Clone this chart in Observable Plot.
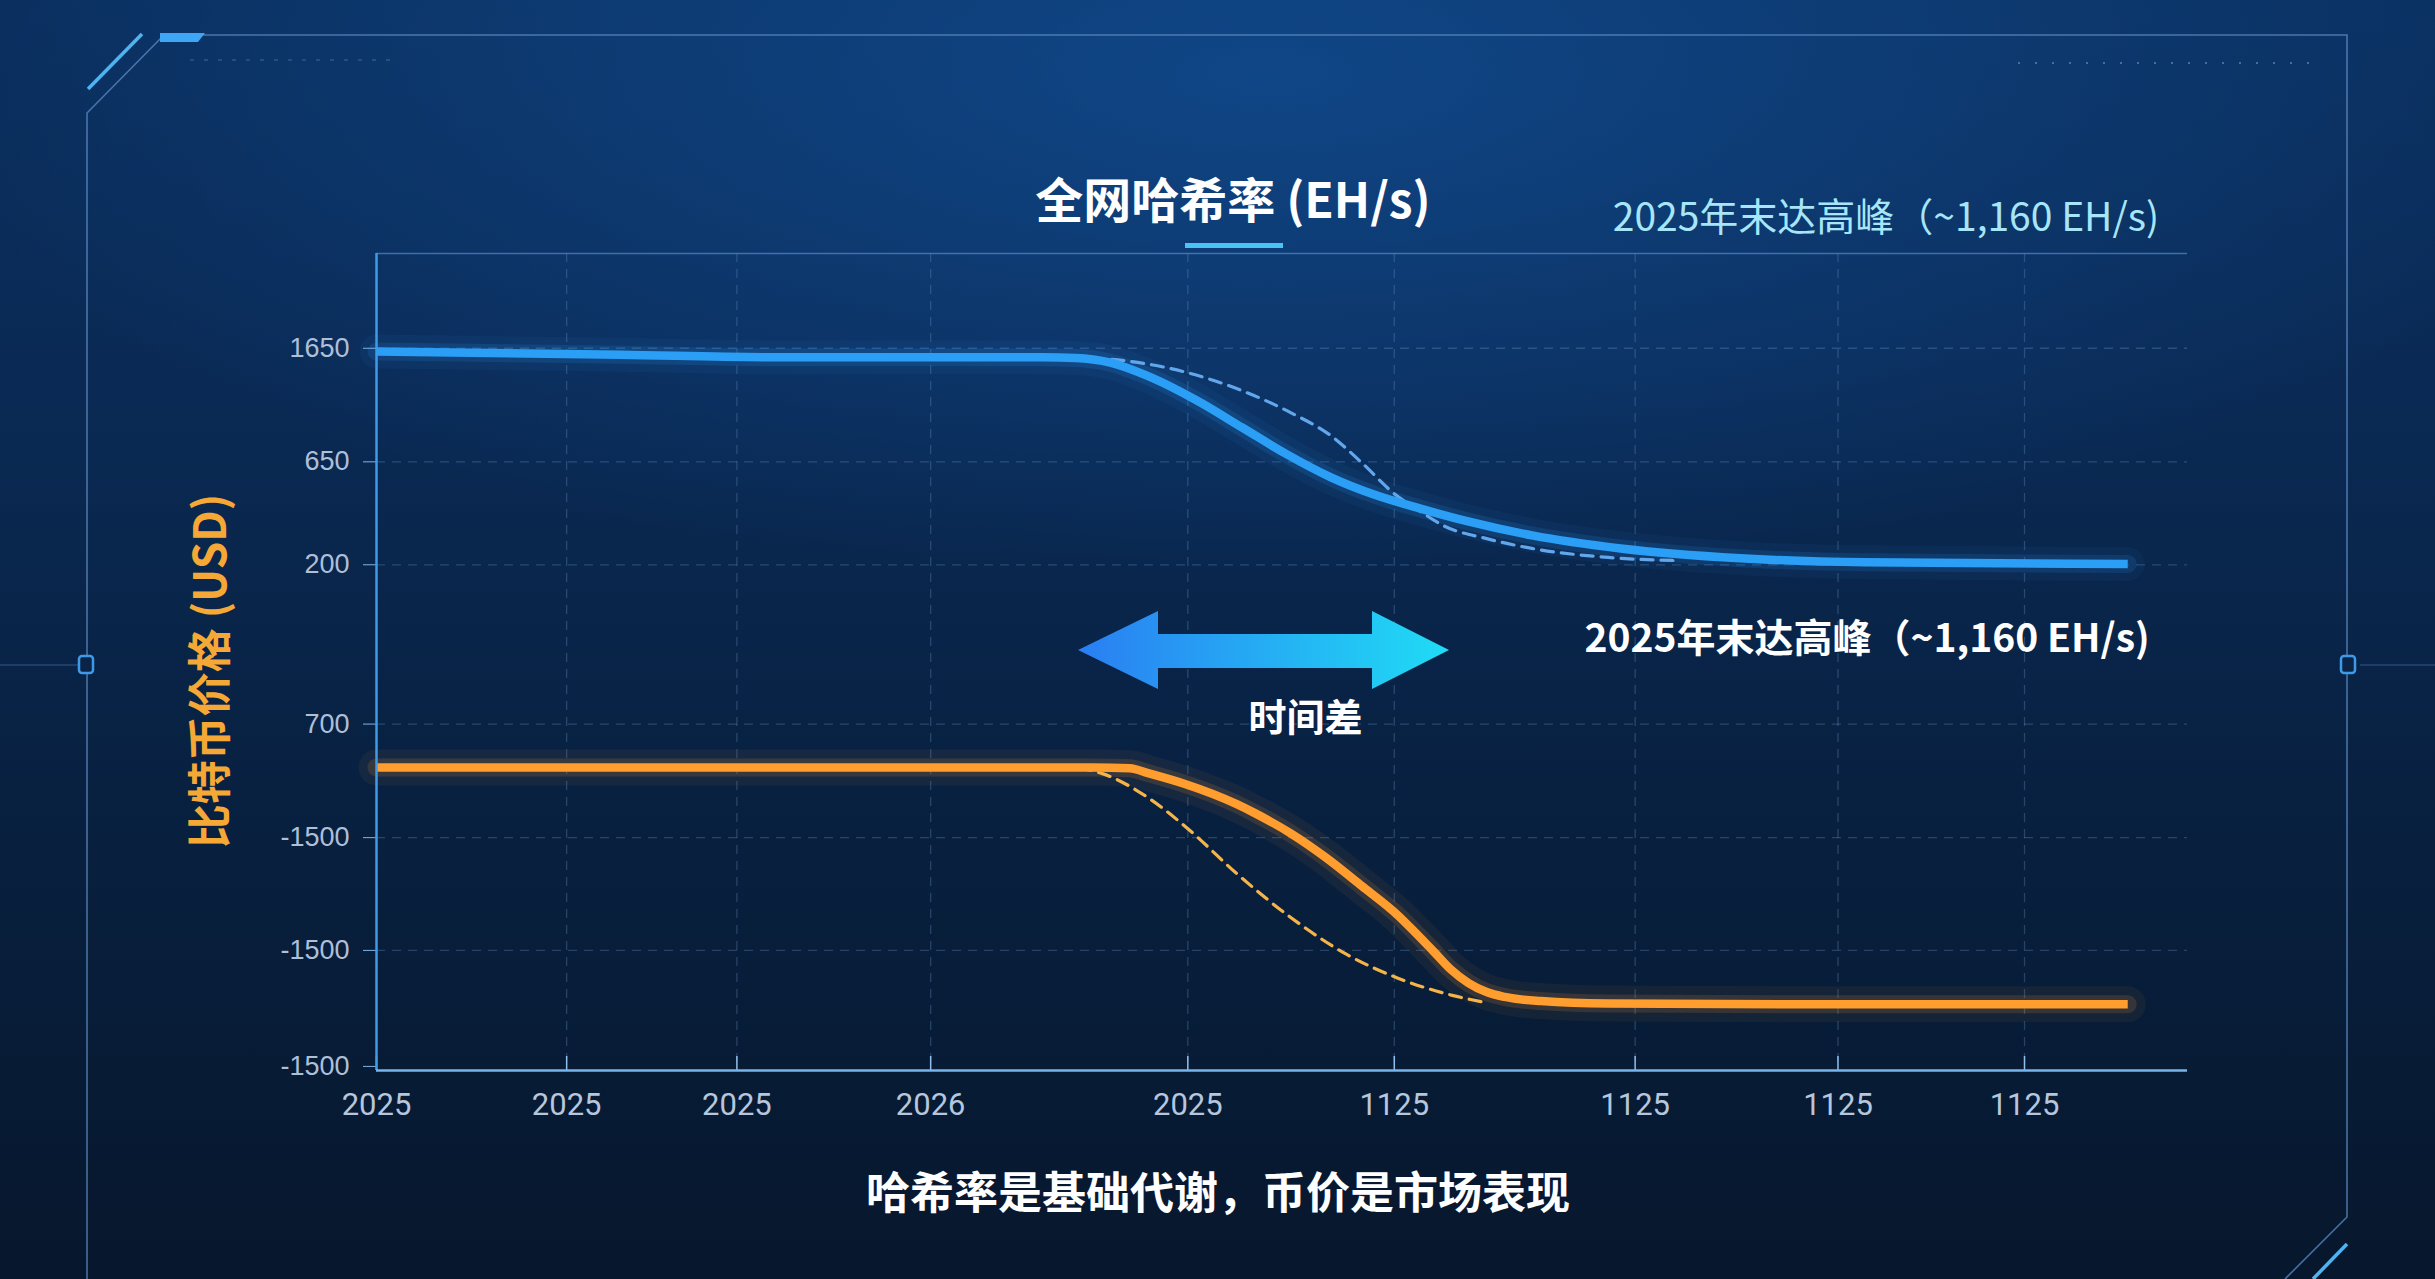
<!DOCTYPE html>
<html><head><meta charset="utf-8">
<script src="https://cdn.jsdelivr.net/npm/d3@7"></script>
<script src="https://cdn.jsdelivr.net/npm/@observablehq/plot@0.6"></script>
<style>
html,body{margin:0;padding:0;width:2435px;height:1279px;overflow:hidden;}
body{position:relative;font-family:"Noto Sans CJK SC","Noto Sans",sans-serif;
background:
 radial-gradient(ellipse 55% 40% at 52% 6%, rgba(20,90,170,0.55) 0%, rgba(20,90,170,0) 100%),
 linear-gradient(180deg,#0a2f5e 0%,#0a2a55 30%,#08203f 65%,#07172d 100%);}
#deco,#chart{position:absolute;left:0;top:0;}
.txt{position:absolute;white-space:nowrap;transform:translate(-50%,-50%);line-height:1;}
</style></head><body>
<svg id="deco" width="2435" height="1279"></svg>
<div id="chart"></div>
<svg id="arrow" width="2435" height="1279" style="position:absolute;left:0;top:0;pointer-events:none"></svg>
<script>
// ---- data ----
const xTickPos = [0, 10.5, 19.9, 30.6, 44.8, 56.2, 69.5, 80.7, 91.0];
const xTickLabels = ["2025","2025","2025","2026","2025","1125","1125","1125","1125"];
const yTickPos = [0.5, 14.7, 28.5, 42.4, 61.9, 74.5, 88.4];
const yTickLabels = ["-1500","-1500","-1500","700","200","650","1650"];

// hash rate (solid)
const hashX = [0, 13.5, 22.1, 30.7, 36.7, 38.6, 40.4, 42.8, 45.3, 47.8, 50.2, 52.7, 55.2, 57.6, 60.1, 63.8, 68.7, 75.3, 82.2, 96.7];
const hashY = [88.0, 87.6, 87.3, 87.3, 87.3, 87.2, 86.7, 84.8, 82.0, 78.7, 75.5, 72.6, 70.4, 68.8, 67.3, 65.5, 63.9, 62.7, 62.2, 62.0];
// hash rate (dashed)
const hashDashX = [38.4, 41.6, 44.8, 47.8, 50.5, 52.7, 54.4, 56.2, 57.6, 58.9, 61.3, 63.8, 68.0, 72.0];
const hashDashY = [87.3, 86.8, 85.4, 83.2, 80.5, 77.7, 74.4, 70.6, 68.5, 66.7, 65.1, 63.9, 62.8, 62.4];
// price (solid)
const priceX = [0, 20, 36.7, 39.5, 41.6, 42.6, 44.6, 47.5, 48.5, 50.5, 52.4, 54.4, 56.4, 57.4, 58.4, 59.3, 60.3, 61.3, 62.3, 64.3, 68, 80, 96.7];
const priceY = [37.1, 37.1, 37.1, 37.1, 37.0, 36.4, 35.1, 32.6, 31.5, 29.0, 26.1, 22.6, 19.0, 16.8, 14.5, 12.4, 10.7, 9.6, 9.0, 8.5, 8.2, 8.1, 8.1];
// price (dashed)
const priceDashX = [38.8, 40.0, 42.6, 44.9, 47.5, 50.5, 53.5, 56.4, 59.4, 61.3];
const priceDashY = [37.0, 36.4, 33.4, 29.4, 24.1, 18.7, 14.3, 11.3, 9.2, 8.3];

const titleText = "全网哈希率 (EH/s)";
const peakText = "2025年末达高峰（~1,160 EH/s)";
const gapText = "时间差";
const yTitle = "比特币价格 (USD)";
const caption = "哈希率是基础代谢，币价是市场表现";

// ---- build ----
const pts = (xs, ys) => xs.map((x, i) => ({x, y: ys[i]}));
const hash = pts(hashX, hashY), hashD = pts(hashDashX, hashDashY);
const price = pts(priceX, priceY), priceD = pts(priceDashX, priceDashY);
const yLab = new Map(yTickPos.map((p, i) => [p, yTickLabels[i]]));
const xLab = new Map(xTickPos.map((p, i) => [p, xTickLabels[i]]));

const W = 2435, H = 1279, ML = 376, MR = 2435 - 2187, MT = 253, MB = 1279 - 1070;
const PH = H - MT - MB;
const BLUE = "#2b9ff5", ORANGE = "#ff9d2f";
const grid = {stroke: "#6a95c8", strokeOpacity: 0.32, strokeWidth: 1.3, strokeDasharray: "9,7"};
const C = "monotone-x";

const chart = Plot.plot({
  width: W, height: H,
  marginLeft: ML, marginRight: MR, marginTop: MT, marginBottom: MB,
  style: {background: "transparent", color: "#b3c3da", fontFamily: "Liberation Sans, Arial, sans-serif", overflow: "visible"},
  x: {domain: [0, 100]},
  y: {domain: [0, 100]},
  marks: [
    Plot.gridX(xTickPos.slice(1), grid),
    Plot.gridY(yTickPos.slice(1), grid),
    Plot.ruleY([100], {stroke: "#4f7fb8", strokeOpacity: 0.8, strokeWidth: 1.5}),
    // glows
    Plot.line(hash, {x: "x", y: "y", curve: C, stroke: BLUE, strokeWidth: 34, strokeOpacity: 0.06}),
    Plot.line(hash, {x: "x", y: "y", curve: C, stroke: BLUE, strokeWidth: 18, strokeOpacity: 0.14}),
    Plot.line(price, {x: "x", y: "y", curve: C, stroke: ORANGE, strokeWidth: 36, strokeOpacity: 0.06}),
    Plot.line(price, {x: "x", y: "y", curve: C, stroke: ORANGE, strokeWidth: 18, strokeOpacity: 0.14}),
    // dashed projections
    Plot.line(hashD, {x: "x", y: "y", curve: C, stroke: "#62a6ec", strokeWidth: 3.2, strokeDasharray: "12,8"}),
    Plot.line(priceD, {x: "x", y: "y", curve: C, stroke: "#f4b449", strokeWidth: 3.2, strokeDasharray: "12,8"}),
    // main lines
    Plot.line(hash, {x: "x", y: "y", curve: C, stroke: BLUE, strokeWidth: 8.5, strokeLinecap: "butt"}),
    Plot.line(price, {x: "x", y: "y", curve: C, stroke: ORANGE, strokeWidth: 8.5, strokeLinecap: "butt"}),
    // axes
    Plot.axisY(yTickPos, {tickFormat: d => yLab.get(d), tickSize: 13, tickPadding: 14, fontSize: 27, label: null, stroke: "#7fb3e6", fill: "#aebfd8"}),
    Plot.axisX(xTickPos, {tickFormat: d => xLab.get(d), tickSize: 0, tickPadding: 22, fontSize: 31, label: null, fill: "#b6c6dc", fontFamily: "Liberation Sans Narrow, Roboto, sans-serif"}),
    Plot.tickX(xTickPos, {x: d => d, insetTop: PH - 14, stroke: "#8fc0ee", strokeWidth: 1.5}),
    Plot.ruleX([0], {stroke: "#3d9be9", strokeWidth: 2.5}),
    Plot.ruleY([0], {stroke: "#78b4ea", strokeWidth: 2.5}),
    // annotations
    Plot.text([peakText], {text: d => d, x: 66.7, y: 52.7, textAnchor: "start", fill: "white", fontSize: 39, fontWeight: "bold", fontFamily: "Noto Sans CJK SC, sans-serif"}),
    Plot.text([gapText], {text: d => d, x: 51.3, y: 43, fill: "white", fontSize: 38, fontWeight: "bold", fontFamily: "Noto Sans CJK SC, sans-serif"})
  ]
});
document.getElementById("chart").appendChild(chart);

// ---- decorative frame ----
const deco = d3.select("#deco");
deco.append("polyline").attr("points", "87,1279 87,113 164,35 2347,35 2347,1217 2285,1279")
  .attr("fill", "none").attr("stroke", "#5f8cc4").attr("stroke-opacity", 0.75).attr("stroke-width", 1.6);
deco.append("polygon").attr("points", "160,33 205,33 198,42 160,42").attr("fill", "#3ea6f5");
deco.append("line").attr("x1", 88).attr("y1", 89).attr("x2", 142).attr("y2", 34).attr("stroke", "#4fb3f0").attr("stroke-width", 3.5);
deco.append("line").attr("x1", 2347).attr("y1", 1244).attr("x2", 2313).attr("y2", 1279).attr("stroke", "#4fb3f0").attr("stroke-width", 3.5);
deco.append("line").attr("x1", 190).attr("y1", 60).attr("x2", 400).attr("y2", 60).attr("stroke", "#5f8cc4").attr("stroke-opacity", 0.3).attr("stroke-width", 2).attr("stroke-dasharray", "4,10");
deco.append("line").attr("x1", 2018).attr("y1", 63).attr("x2", 2320).attr("y2", 63).attr("stroke", "#8fb3dd").attr("stroke-opacity", 0.45).attr("stroke-width", 2).attr("stroke-dasharray", "2,15");
for (const cx of [86, 2348]) {
  deco.append("rect").attr("x", cx - 7).attr("y", 656).attr("width", 14).attr("height", 17).attr("rx", 3)
    .attr("fill", "#0a2448").attr("stroke", "#3e9ae8").attr("stroke-width", 2.5);
}
deco.append("line").attr("x1", 0).attr("y1", 665).attr("x2", 78).attr("y2", 665).attr("stroke", "#5f8cc4").attr("stroke-opacity", 0.5);
deco.append("line").attr("x1", 2360).attr("y1", 665).attr("x2", 2435).attr("y2", 665).attr("stroke", "#5f8cc4").attr("stroke-opacity", 0.5);
deco.append("rect").attr("x", 1185).attr("y", 243).attr("width", 98).attr("height", 5).attr("fill", "#4cc3f5");

// ---- double arrow ----
const ar = d3.select("#arrow");
const g = ar.append("defs").append("linearGradient").attr("id", "ag").attr("x1", "0").attr("x2", "1").attr("y1", "0").attr("y2", "0");
g.append("stop").attr("offset", "0").attr("stop-color", "#2a7ef2");
g.append("stop").attr("offset", "1").attr("stop-color", "#20dcf5");
ar.append("polygon")
  .attr("points", "1078,650 1158,611 1158,634 1372,634 1372,611 1449,650 1372,689 1372,668 1158,668 1158,689")
  .attr("fill", "url(#ag)");

// ---- texts ----
function addText(t, x, y, css) {
  const d = document.createElement("div");
  d.className = "txt"; d.textContent = t;
  d.style.left = x + "px"; d.style.top = y + "px";
  Object.assign(d.style, css);
  document.body.appendChild(d);
  return d;
}
addText(titleText, 1233, 197, {fontSize: "48px", fontWeight: "700", color: "#ffffff"});
addText(peakText, 1886, 214, {fontSize: "39px", fontWeight: "400", color: "#a6e6f8"});
addText(caption, 1218, 1190, {fontSize: "44px", fontWeight: "700", color: "#ffffff"});
const yt = addText(yTitle, 207, 671, {fontSize: "44px", fontWeight: "700", color: "#f5a835"});
yt.style.transform = "translate(-50%,-50%) rotate(-90deg)";
</script>
</body></html>
